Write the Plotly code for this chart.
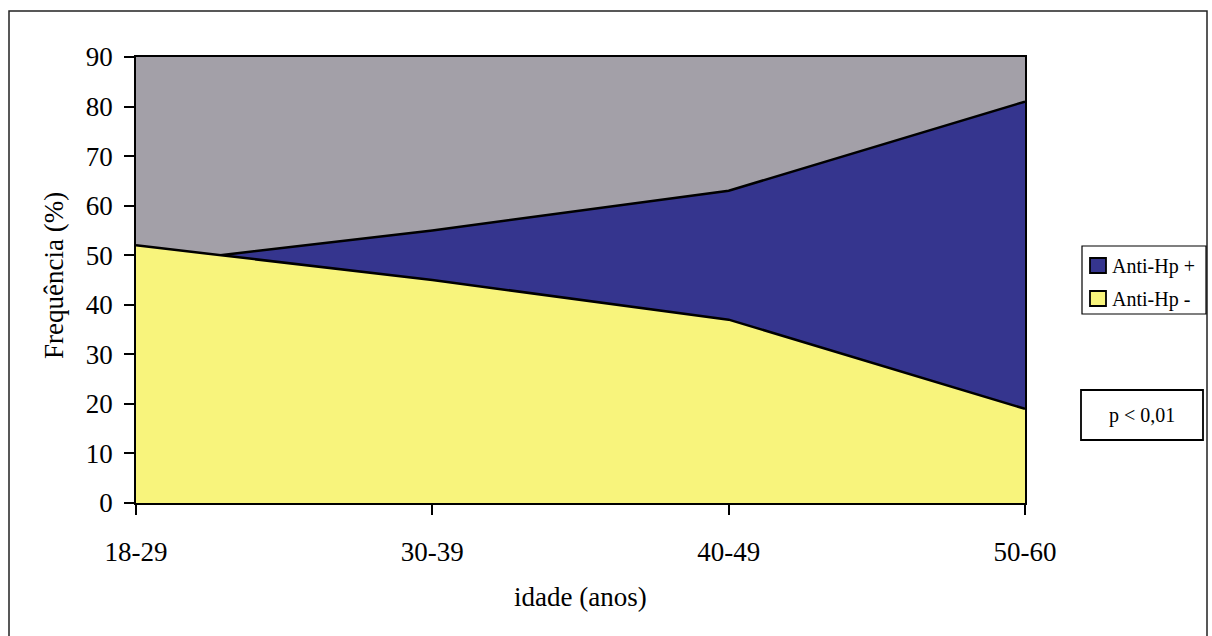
import plotly.graph_objects as go

# Age groups and seroprevalence (%)
faixas = ["18-29", "30-39", "40-49", "50-60"]
anti_hp_pos = [48, 55, 63, 81]
anti_hp_neg = [52, 45, 37, 19]
y_ticks = [0, 10, 20, 30, 40, 50, 60, 70, 80, 90]
series_names = ["Anti-Hp +", "Anti-Hp -"]
series_colors = ["#35358e", "#f8f47c"]

FONT = "Liberation Serif, Times New Roman, serif"
x_pos = list(range(len(faixas)))

fig = go.Figure()
for vals, name, color in zip([anti_hp_pos, anti_hp_neg], series_names, series_colors):
    fig.add_trace(go.Scatter(
        x=x_pos, y=vals, name=name, mode="lines",
        fill="tozeroy", fillcolor=color,
        line=dict(color="black", width=2.5),
        showlegend=False,
    ))

W, H = 1212, 636
L, R, T, B = 136, 187, 57, 133
pw, ph = W - L - R, H - T - B


def px(xp):
    return (xp - L) / pw


def py(yp):
    return (H - B - yp) / ph


shapes = [
    # outer frame of the chart
    dict(type="rect", xref="paper", yref="paper",
         x0=px(9), x1=px(1207), y0=py(660), y1=py(11),
         line=dict(color="#222", width=1.5), layer="below"),
    # legend box
    dict(type="rect", xref="paper", yref="paper",
         x0=px(1082), x1=px(1206), y0=py(314), y1=py(246),
         line=dict(color="black", width=1.2), fillcolor="white"),
    # box around the p-value note
    dict(type="rect", xref="paper", yref="paper",
         x0=px(1081), x1=px(1203), y0=py(440), y1=py(390),
         line=dict(color="black", width=1.8), fillcolor="white"),
]

annotations = [
    dict(text="p < 0,01", xref="paper", yref="paper",
         x=px(1142), y=py(415), showarrow=False,
         font=dict(family=FONT, size=20, color="black"),
         xanchor="center", yanchor="middle"),
    dict(text="Frequência (%)", xref="paper", yref="paper",
         x=px(54), y=py(276), showarrow=False, textangle=-90,
         font=dict(family=FONT, size=27, color="black"),
         xanchor="center", yanchor="middle"),
    dict(text="idade (anos)", xref="paper", yref="paper",
         x=px(580), y=py(597), showarrow=False,
         font=dict(family=FONT, size=27, color="black"),
         xanchor="center", yanchor="middle"),
]

# legend entries: swatch plus label
legend_rows = [266, 299]
for name, color, yc in zip(series_names, series_colors, legend_rows):
    shapes.append(dict(type="rect", xref="paper", yref="paper",
                       x0=px(1090), x1=px(1106), y0=py(yc + 7), y1=py(yc - 8),
                       line=dict(color="black", width=1.8), fillcolor=color))
    annotations.append(dict(text=name, xref="paper", yref="paper",
                            x=px(1110), y=py(yc), showarrow=False,
                            font=dict(family=FONT, size=20, color="black"),
                            xanchor="left", yanchor="middle"))

fig.update_layout(
    width=W, height=H,
    margin=dict(l=L, r=R, t=T, b=B),
    paper_bgcolor="white",
    plot_bgcolor="#a3a0a8",
    font=dict(family=FONT, size=27, color="black"),
    showlegend=False,
    shapes=shapes,
    annotations=annotations,
)

fig.update_xaxes(
    range=[0, 3], tickvals=x_pos, ticktext=faixas,
    showgrid=False, zeroline=False,
    showline=True, linecolor="black", linewidth=1.5, mirror=True,
    ticks="outside", ticklen=10, tickcolor="black", tickwidth=1.5,
    tickfont=dict(size=27), ticklabelstandoff=14,
)
fig.update_yaxes(
    range=[0, 90], tickvals=y_ticks,
    showgrid=False, zeroline=False,
    showline=True, linecolor="black", linewidth=1.5, mirror=True,
    ticks="outside", ticklen=10, tickcolor="black", tickwidth=1.5,
    tickfont=dict(size=27), ticklabelstandoff=6,
)

fig.write_html("out.html")
